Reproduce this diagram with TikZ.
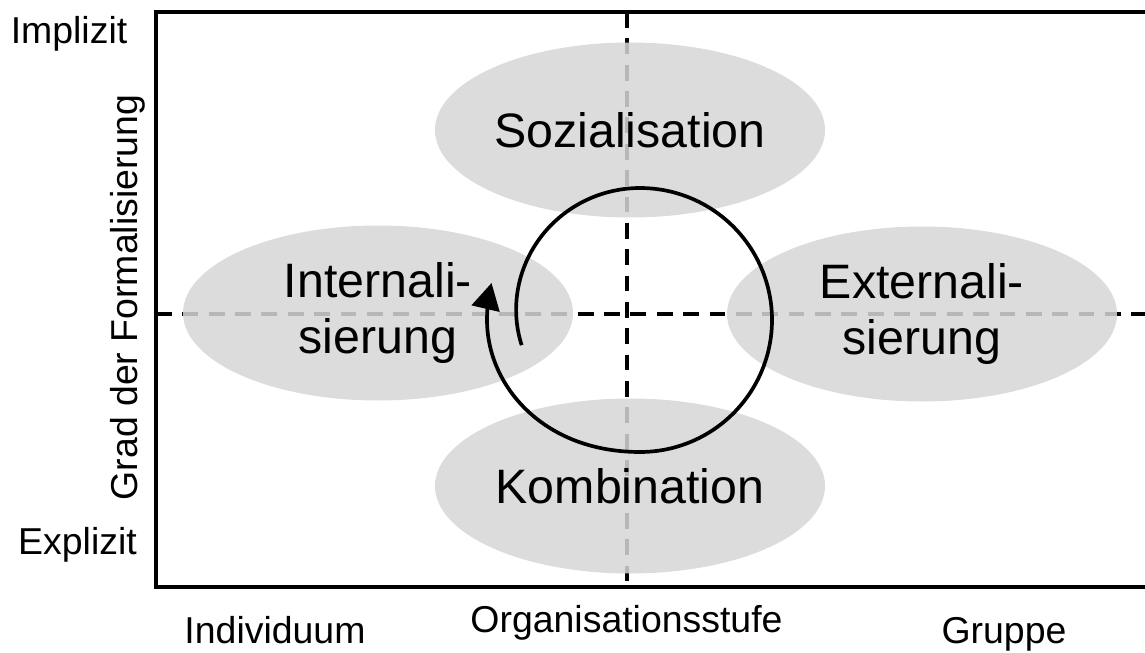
\documentclass[tikz,border=0pt]{standalone}
\usepackage{fontspec}
\setmainfont{Liberation Sans}
\usetikzlibrary{shapes.geometric,arrows.meta}

\tikzset{
	quadrant/.style={ellipse, fill=black!16, fill opacity=0.86, text opacity=1, minimum width=7.8cm, minimum height=3.5cm, inner sep=0pt, align=center, font=\fontsize{27.5}{32}\selectfont},
	axislabel/.style={font=\fontsize{21.3}{25}\selectfont, inner sep=0pt, anchor=base},
	axisline/.style={line width=2.4pt, line join=miter},
	midline/.style={line width=2.1pt, dash pattern=on 9pt off 6pt},
	cyclearrow/.style={line width=2.1pt, -{Triangle[length=15pt,width=16pt]}},
}

\begin{document}
\begin{tikzpicture}[every node/.style={black},
	declare function={
		sa(\t)=max(0,(\t-90)/102);
		sb(\t)=min(1,max(0,(-90-\t)/90));
		sr(\t)=2.64-0.22*sa(\t)*sa(\t)+0.42*sb(\t)*sb(\t)*(3-2*sb(\t));
	}]
	\useasboundingbox (0,0) rectangle (22.9,13.04);
%	frame and cross
	\coordinate (tr) at (22.9,12.8);
	\coordinate (tl) at (3.12,12.8);
	\coordinate (bl) at (3.12,1.3);
	\coordinate (br) at (22.9,1.3);
	\coordinate (vtop) at (12.54,12.8);
	\coordinate (vbot) at (12.54,1.3);
	\coordinate (hleft) at (3.12,6.76);
	\coordinate (hright) at (22.9,6.76);

	\draw[midline] (vtop) -- (vbot);
	\draw[midline] (hleft) -- (hright);

	\node[quadrant] (sozial) at (12.6,10.44) {Sozialisation};
	\node[quadrant] (intern) at (7.56,6.78) {Internali-\\sierung};
	\node[quadrant] (extern) at (18.44,6.76) {Externali-\\sierung};
	\node[quadrant] (kombi) at (12.6,3.32) {Kombination};

	\draw[axisline] (tr) -- (tl) -- (bl) -- (br);

%	spiral round the centre (12.8,6.64)
	\draw[cyclearrow] plot[domain=192:-194, samples=150, smooth] ({12.8+sr(\x)*cos(\x)},{6.64+sr(\x)*sin(\x)});

	\node[axislabel] (implizit) at (1.38,12.16) {Implizit};
	\node[axislabel] (explizit) at (1.55,1.96) {Explizit};
	\node[axislabel, rotate=90] (grad) at (2.74,7.09) {Grad der Formalisierung};
	\node[axislabel] (indiv) at (5.5,0.18) {Individuum};
	\node[axislabel] (orga) at (12.53,0.4) {Organisationsstufe};
	\node[axislabel] (gruppe) at (20.08,0.18) {Gruppe};
\end{tikzpicture}
\end{document}
